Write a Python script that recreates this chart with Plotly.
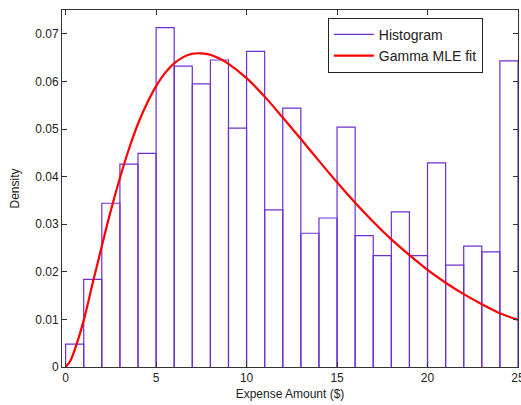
import plotly.graph_objects as go

# Histogram (bin width 1, from 0 to 25)
bin_edges = list(range(0, 26))
densities = [0.0048, 0.0184, 0.0344, 0.0426, 0.0449, 0.0713, 0.0632, 0.0595,
             0.0645, 0.0502, 0.0663, 0.0330, 0.0544, 0.0281, 0.0313, 0.0504,
             0.0276, 0.0234, 0.0326, 0.0234, 0.0429, 0.0214, 0.0254, 0.0242,
             0.0643]

# Gamma MLE fit curve
fit_x = [0, 0.25, 0.5, 1, 1.5, 2, 2.5, 3, 3.5, 4, 4.5, 5, 5.5, 6, 6.5, 7, 7.5,
         8, 8.5, 9, 10, 11, 12, 13, 14, 15, 16, 17, 18, 19, 20, 21, 22, 23, 24, 25]
fit_y = [0.0, 0.0012, 0.0036, 0.0098, 0.0177, 0.0254, 0.0329, 0.0397, 0.0458,
         0.0511, 0.0554, 0.0590, 0.0618, 0.0638, 0.0651, 0.0658, 0.0659,
         0.0656, 0.0648, 0.0637, 0.0607, 0.0568, 0.0524, 0.0479, 0.0433,
         0.0388, 0.0345, 0.0305, 0.0268, 0.0235, 0.0204, 0.0177, 0.0153,
         0.0132, 0.0113, 0.0099]

x_ticks = [0, 5, 10, 15, 20, 25]
y_ticks = [0, 0.01, 0.02, 0.03, 0.04, 0.05, 0.06, 0.07]
y_tick_labels = ["0", "0.01", "0.02", "0.03", "0.04", "0.05", "0.06", "0.07"]

PURPLE = "#6f2fd0"
FONT = "Liberation Sans, Arial, sans-serif"

# outline path of the histogram rectangles
hx, hy = [], []
for i, h in enumerate(densities):
    x0, x1 = bin_edges[i], bin_edges[i + 1]
    hx += [x0, x0, x1, x1, None]
    hy += [0, h, h, 0, None]

fig = go.Figure()
fig.add_trace(go.Scatter(x=hx, y=hy, mode="lines", name="Histogram",
                         line=dict(color=PURPLE, width=1.2), connectgaps=False))
fig.add_trace(go.Scatter(x=fit_x, y=fit_y, mode="lines", name="Gamma MLE fit",
                         line=dict(color="#ff0000", width=2.2, shape="spline")))

axis_common = dict(showline=True, linecolor="#333333", linewidth=1, mirror="ticks",
                   ticks="inside", ticklen=5, tickcolor="#333333", showgrid=False,
                   zeroline=False, ticklabeloverflow="allow", automargin=False,
                   tickfont=dict(family=FONT, size=12, color="#222222"))

fig.update_layout(
    width=521, height=405,
    margin=dict(l=62, r=3, t=10, b=38, autoexpand=False),
    paper_bgcolor="white", plot_bgcolor="white",
    font=dict(family=FONT, size=12, color="#222222"),
    xaxis=dict(range=[-0.2, 25], tickvals=x_ticks,
               title=dict(text="Expense Amount ($)", standoff=5,
                          font=dict(family=FONT, size=12)),
               **axis_common),
    yaxis=dict(range=[0, 0.075], tickvals=y_ticks, ticktext=y_tick_labels,
               title=dict(text="Density", standoff=13,
                          font=dict(family=FONT, size=12)),
               **axis_common),
    legend=dict(x=0.583, y=0.978, xanchor="left", yanchor="top",
                bgcolor="white", bordercolor="#222222", borderwidth=1,
                font=dict(family=FONT, size=14), itemwidth=40,
                tracegroupgap=0),
    showlegend=True,
)

fig.write_html("out.html")
